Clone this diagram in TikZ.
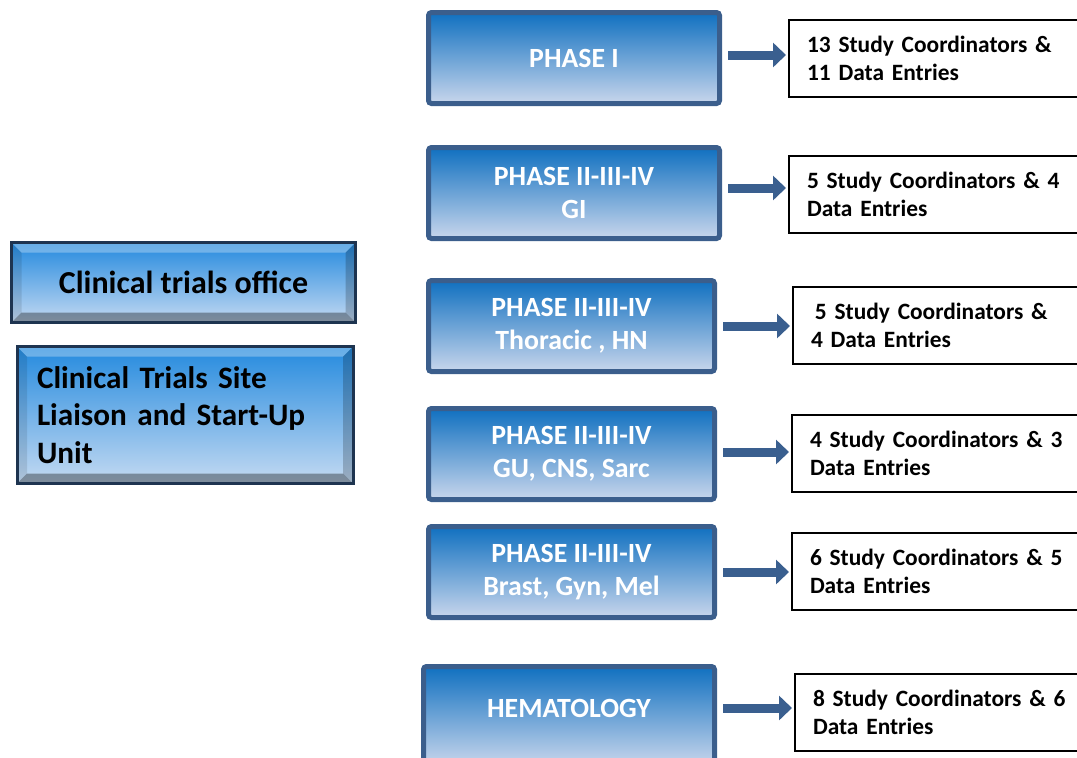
\documentclass[tikz,border=0pt]{standalone}
\usepackage{fontspec}
\setmainfont{Carlito}
\usepackage{tikz}
\usetikzlibrary{arrows.meta, positioning}
\definecolor{phaseedge}{RGB}{59,94,140}
\definecolor{phasetop}{RGB}{16,112,192}
\definecolor{phasemid}{RGB}{110,160,212}
\definecolor{phasebot}{RGB}{200,214,236}
\definecolor{officetop}{RGB}{36,138,222}
\definecolor{officebot}{RGB}{196,218,242}
\definecolor{officeedge}{RGB}{30,52,80}
\definecolor{arrowblue}{RGB}{58,95,143}

\begin{document}
\begin{tikzpicture}[
    x=0.5pt, y=-0.5pt,
    phase/.style={rectangle, draw=phaseedge, line width=2.5pt, rounded corners=1.5pt,
        top color=phasetop, middle color=phasemid, bottom color=phasebot,
        minimum width=145.5pt, minimum height=45.5pt, align=center, text=white,
        font=\fontsize{13.9}{16.5}\selectfont\bfseries},
    staff/.style={rectangle, draw=black, line width=1pt, fill=white, anchor=west,
        text width=134pt, inner xsep=9pt, minimum height=38.5pt, align=left,
        font=\fontsize{11.7}{14}\selectfont\bfseries},
    office/.style={rectangle, draw=officeedge, line width=1.5pt,
        top color=officetop, bottom color=officebot,
        font=\fontsize{15.6}{18.75}\selectfont\bfseries,
        path picture={
            \fill[white, opacity=0.3] (path picture bounding box.north west) -- (path picture bounding box.north east)
                -- ([xshift=-5pt, yshift=-5pt]path picture bounding box.north east) -- ([xshift=5pt, yshift=-5pt]path picture bounding box.north west) -- cycle;
            \fill[black, opacity=0.35] (path picture bounding box.south west) -- (path picture bounding box.south east)
                -- ([xshift=-5pt, yshift=5pt]path picture bounding box.south east) -- ([xshift=5pt, yshift=5pt]path picture bounding box.south west) -- cycle;
            \fill[black, opacity=0.2] (path picture bounding box.north east) -- (path picture bounding box.south east)
                -- ([xshift=-5pt, yshift=5pt]path picture bounding box.south east) -- ([xshift=-5pt, yshift=-5pt]path picture bounding box.north east) -- cycle;
            \fill[black, opacity=0.1] (path picture bounding box.north west) -- (path picture bounding box.south west)
                -- ([xshift=5pt, yshift=5pt]path picture bounding box.south west) -- ([xshift=5pt, yshift=-5pt]path picture bounding box.north west) -- cycle;
        }},
    arrow/.style={-{Triangle[length=6.5pt 0 0, width=12pt 0 0]}, draw=arrowblue, line width=4.5pt,
        shorten <=3pt, shorten >=1pt}
]
    \useasboundingbox (0,0) rectangle (1077,757);

    % Offices on the left
    \node[office, minimum width=172pt, minimum height=40pt, font=\fontsize{16}{18.75}\selectfont\bfseries] (office) at (183.5,282.5) {Clinical trials office};
    \node[office, minimum height=68.5pt, text width=148pt, inner xsep=10pt, align=left] (liaison) at (185,415)
        {Clinical Trials Site\\Liaison and Start-Up\\Unit};

    % Phase units
    \node[phase] (ph1) at (574,58) {PHASE I};
    \node[phase] (ph2) at (574,193) {PHASE II-III-IV\\GI};
    \node[phase, minimum width=143pt] (ph3) at (571.5,326) {PHASE II-III-IV\\Thoracic , HN};
    \node[phase, minimum width=143pt] (ph4) at (571.5,454) {PHASE II-III-IV\\GU, CNS, Sarc};
    \node[phase, minimum width=143pt] (ph5) at (571.5,572) {PHASE II-III-IV\\Brast, Gyn, Mel};
    \node[phase, minimum height=49.5pt, text depth=8pt] (ph6) at (569,716) {HEMATOLOGY};

    % Staff per unit
    \node[staff] (st1) at (788,58) {13 Study Coordinators \&\\11 Data Entries};
    \node[staff] (st2) at (788,194) {5 Study Coordinators \& 4\\Data Entries};
    \node[staff] (st3) at (792,325.5) {\,5 Study Coordinators \&\\4 Data Entries};
    \node[staff] (st4) at (791,453) {4 Study Coordinators \& 3\\Data Entries};
    \node[staff] (st5) at (791,571) {6 Study Coordinators \& 5\\Data Entries};
    \node[staff] (st6) at (794,712) {8 Study Coordinators \& 6\\Data Entries};

    % Arrows
    \draw[arrow] ([yshift=1.5pt]ph1.east) -- ([yshift=1.5pt]ph1.east -| st1.west);
    \draw[arrow] ([yshift=2.5pt]ph2.east) -- ([yshift=2.5pt]ph2.east -| st2.west);
    \draw[arrow] (ph3.east) -- (ph3.east -| st3.west);
    \draw[arrow] ([yshift=1pt]ph4.east) -- ([yshift=1pt]ph4.east -| st4.west);
    \draw[arrow] (ph5.east) -- (ph5.east -| st5.west);
    \draw[arrow] ([yshift=4pt]ph6.east) -- ([yshift=4pt]ph6.east -| st6.west);
\end{tikzpicture}
\end{document}
